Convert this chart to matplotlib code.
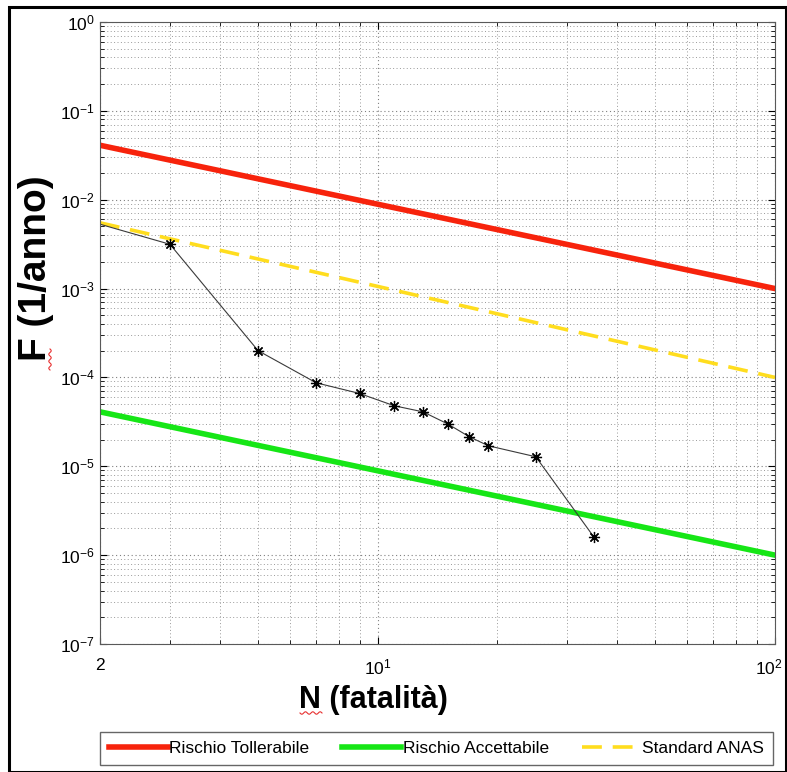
import numpy as np
import matplotlib
matplotlib.use("Agg")
from matplotlib import pyplot as plt
from matplotlib.lines import Line2D
from matplotlib.patches import Rectangle
from matplotlib.transforms import ScaledTranslation

plt.rcParams['font.family'] = ['Liberation Sans', 'DejaVu Sans']
plt.rcParams['mathtext.default'] = 'regular'

# curve di rischio (estremi)
n_lim = [2, 100]
f_tollerabile = [4.1e-2, 1.0e-3]
f_accettabile = [4.1e-5, 1.0e-6]
f_anas = [5.5e-3, 1.0e-4]

# curva F-N calcolata
n_fn = [2, 3, 5, 7, 9, 11, 13, 15, 17, 19, 25, 35]
f_fn = [5.3e-3, 3.15e-3, 2.0e-4, 8.7e-5, 6.6e-5, 4.8e-5, 4.1e-5, 3.0e-5,
        2.15e-5, 1.7e-5, 1.28e-5, 1.6e-6]

x_ticks = [2, 10, 100]
x_labels = ['2', '$10^1$', '$10^2$']

W, H = 787, 772
fig = plt.figure(figsize=(W / 100, H / 100), dpi=100)
ax = fig.add_axes([100 / W, 1 - 644 / H, 675 / W, 622 / H])

ax.loglog(n_lim, f_tollerabile, color='#f7230c', lw=4, label='Rischio Tollerabile')
ax.loglog(n_lim, f_accettabile, color='#16e616', lw=4, label='Rischio Accettabile')
ax.loglog(n_lim, f_anas, color='#ffdd1e', lw=2.6, dashes=(5.5, 3), label='Standard ANAS')
ax.loglog(n_fn, f_fn, color='#3a3a3a', lw=0.8, marker=(8, 2, 0), ms=8, mew=0.9,
          mec='black', markevery=slice(1, None))

ax.set_xlim(2, 100)
ax.set_ylim(1e-7, 1)
ax.set_xticks(x_ticks)
ax.set_xticklabels(x_labels)
ax.tick_params(which='both', direction='in', top=True, right=True, labelsize=12.5)
ax.tick_params(axis='x', pad=10)
ax.tick_params(which='major', length=5)
ax.tick_params(which='minor', length=3)
ax.grid(which='major', ls=(0, (1, 2.5)), color='0.5', lw=0.8)
ax.grid(which='minor', ls=(0, (1, 2.5)), color='0.6', lw=0.7)
for s in ax.spines.values():
    s.set_color('0.35')

# l'etichetta 10^2 sta sul bordo: spostarla un poco a sinistra
lab = ax.get_xticklabels()[-1]
lab.set_transform(lab.get_transform() + ScaledTranslation(-6 / 100, 0, fig.dpi_scale_trans))

fig.text(373 / W, 1 - 700 / H, 'N (fatalità)', ha='center', va='center',
         fontsize=22, fontweight='bold')
fig.text(36 / W, 1 - 268 / H, 'F (1/anno)', ha='center', va='center',
         fontsize=28, fontweight='bold', rotation=90)

# sottolineature ondulate rosse
t = np.linspace(0, 1, 60)
fig.add_artist(Line2D((300 + 22 * t) / W, 1 - (713 + 1.2 * np.sin(t * 6 * np.pi)) / H,
                      color='#e83030', lw=0.8))
fig.add_artist(Line2D((50 + 1.2 * np.sin(t * 6 * np.pi)) / W, 1 - (349 + 21 * t) / H,
                      color='#e83030', lw=0.8))

fig.legend(loc='lower left', bbox_to_anchor=(100 / W, 1 - 765 / H, 673 / W, 35 / H),
           mode='expand', ncol=3, fontsize=12.5, handlelength=3.4, handletextpad=0.1,
           columnspacing=0.2, borderaxespad=0, borderpad=0.5, fancybox=False,
           edgecolor='0.4', framealpha=1)

fig.add_artist(Rectangle((9 / W, 0), 777 / W, 1 - 7 / H, transform=fig.transFigure,
                         fill=False, ec='black', lw=2.2))

fig.savefig('out.png', dpi=100)
